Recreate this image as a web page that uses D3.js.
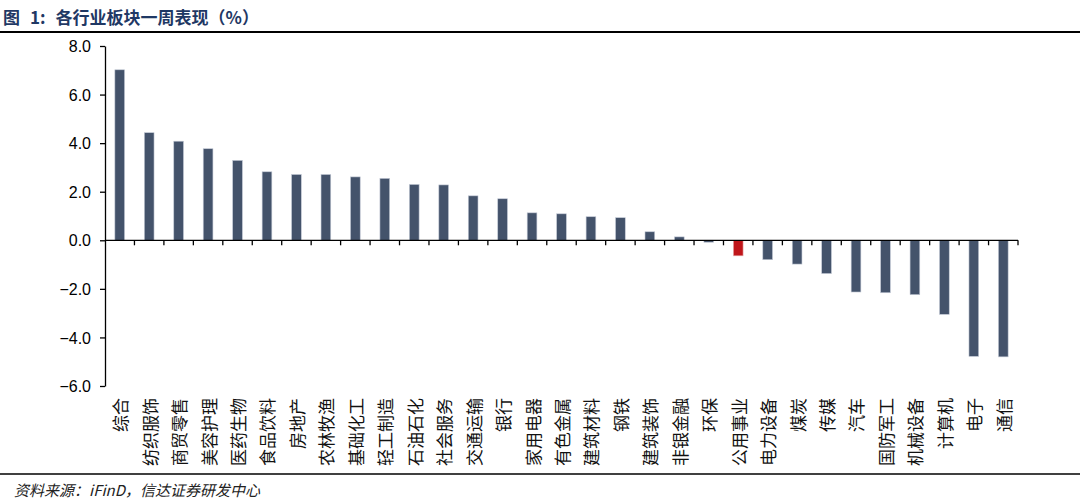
<!DOCTYPE html>
<html><head><meta charset="utf-8">
<script src="https://cdn.jsdelivr.net/npm/d3@7/dist/d3.min.js"></script>
<style>
html,body{margin:0;padding:0;background:#fff;}
svg{display:block;}
</style></head>
<body>
<script>
const categories = ["综合","纺织服饰","商贸零售","美容护理","医药生物","食品饮料","房地产","农林牧渔","基础化工","轻工制造","石油石化","社会服务","交通运输","银行","家用电器","有色金属","建筑材料","钢铁","建筑装饰","非银金融","环保","公用事业","电力设备","煤炭","传媒","汽车","国防军工","机械设备","计算机","电子","通信"];
const values = [7.02,4.43,4.08,3.77,3.29,2.82,2.71,2.71,2.61,2.55,2.30,2.28,1.83,1.71,1.13,1.09,0.97,0.93,0.35,0.14,-0.08,-0.64,-0.80,-0.98,-1.37,-2.13,-2.16,-2.24,-3.05,-4.78,-4.80];
const highlight = ["公用事业"];
const yTicks = [8,6,4,2,0,-2,-4,-6];
const titleText = "各行业板块一周表现（%）";
const source = "资料来源：iFinD，信达证券研发中心";

const W = 1080, H = 500;
const svg = d3.select("body").append("svg").attr("width", W).attr("height", H);

const x = d3.scaleBand().domain(categories).range([105, 1018]).paddingInner(0.67).paddingOuter(0.335);
const xb = d3.scaleBand().domain(categories).range([105, 1018]);
const y = d3.scaleLinear().domain([-6, 8]).range([386, 46]);

// title
const t = svg.append("text").attr("x", 3).attr("y", 24)
  .attr("font-family", "'Noto Sans CJK SC', serif").attr("font-weight", "bold")
  .attr("font-size", 17).attr("fill", "#1f3864");
t.append("tspan").text("图");
t.append("tspan").attr("dx", 10).text("1:");
t.append("tspan").attr("dx", 10).text(titleText);
svg.append("line").attr("x1", 0).attr("x2", W).attr("y1", 32).attr("y2", 32)
  .attr("stroke", "#000").attr("stroke-width", 2);
svg.append("line").attr("x1", 0).attr("x2", W).attr("y1", 474).attr("y2", 474)
  .attr("stroke", "#000").attr("stroke-width", 1.5);
svg.append("text").attr("x", 14).attr("y", 496)
  .attr("font-family", "'Noto Sans CJK SC', serif").attr("font-style", "italic")
  .attr("font-size", 15).attr("fill", "#222").text(source);

// bars
svg.append("g").selectAll("rect").data(categories).join("rect")
  .attr("x", d => x(d))
  .attr("width", x.bandwidth())
  .attr("y", (d, i) => y(Math.max(0, values[i])))
  .attr("height", (d, i) => Math.abs(y(values[i]) - y(0)))
  .attr("fill", d => highlight.includes(d) ? "#c0161a" : "#44536b")
  .attr("stroke", d => highlight.includes(d) ? "#e8b0b0" : "#c4cad6")
  .attr("stroke-width", 0.6);

// y axis
const yAxis = d3.axisLeft(y).tickValues(yTicks).tickFormat(d3.format(".1f")).tickSize(5).tickSizeOuter(0);
const gy = svg.append("g").attr("transform", "translate(105,0)").call(yAxis);
gy.select(".domain").attr("stroke", "#000").attr("stroke-width", 1.3);
gy.selectAll(".tick line").attr("stroke", "#000").attr("stroke-width", 1.3);
gy.selectAll(".tick text").attr("font-family", "'Liberation Sans', Arial, sans-serif")
  .attr("font-size", 16).attr("fill", "#000").attr("x", -14).attr("dy", "0.35em");

// zero axis with ticks at band boundaries
const bounds = categories.map(c => xb(c)).concat([xb.range()[1]]).slice(1);
const gx = svg.append("g");
gx.append("line").attr("x1", 105).attr("x2", 1018).attr("y1", y(0)).attr("y2", y(0))
  .attr("stroke", "#000").attr("stroke-width", 1.3);
gx.selectAll("line.t").data(bounds).join("line").attr("class", "t")
  .attr("x1", d => d).attr("x2", d => d).attr("y1", y(0)).attr("y2", y(0) + 5)
  .attr("stroke", "#000").attr("stroke-width", 1.3);

// category labels (rotated -90)
svg.append("g").selectAll("text").data(categories).join("text")
  .attr("transform", d => `translate(${xb(d) + xb.bandwidth() / 2 + 1.5},398) rotate(-90)`)
  .attr("text-anchor", "end").attr("dy", "0.35em")
  .attr("font-family", "'Noto Sans CJK SC', sans-serif")
  .attr("font-size", 17).attr("fill", "#111")
  .text(d => d);
</script>
</body></html>
